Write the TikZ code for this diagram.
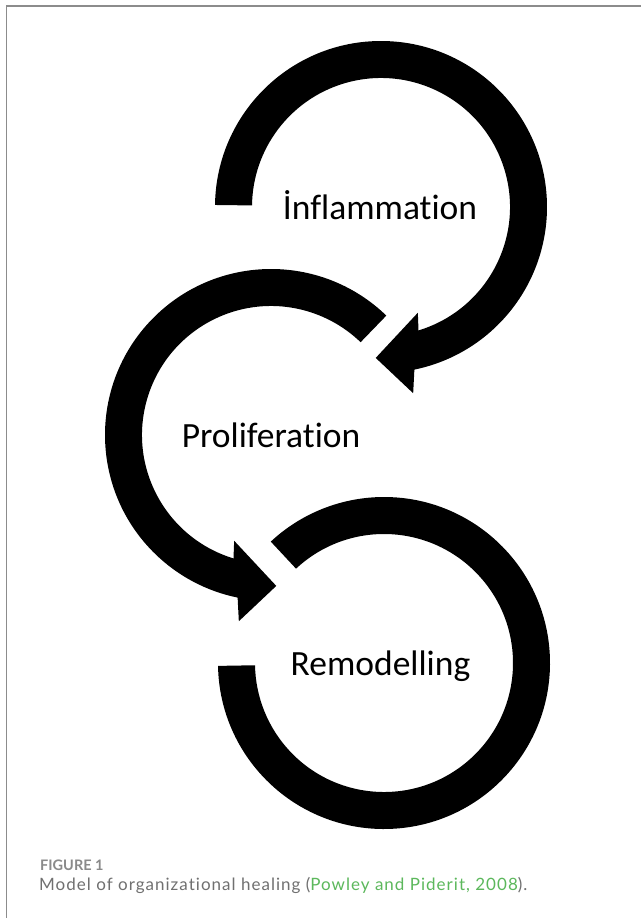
\documentclass[tikz,border=0pt]{standalone}
\usepackage{fontspec}
\usetikzlibrary{calc}
\setmainfont{Carlito}[Ligatures=NoCommon]
\newfontfamily\capfont{Lato}[Ligatures=NoCommon]
\newfontfamily\capwide{Lato}[Ligatures=NoCommon,LetterSpace=6]
\definecolor{framegray}{HTML}{8C8C8C}
\definecolor{capgray}{HTML}{707070}
\definecolor{figgray}{HTML}{8A8A8A}
\definecolor{capgreen}{HTML}{5CB85C}
\begin{document}
\begin{tikzpicture}[x=1pt,y=1pt,
  ring/.style={fill=black,draw=none},
  stage/.style={font=\fontsize{35.5}{40}\selectfont,anchor=base,inner sep=0pt},
  captext/.style={anchor=base west,inner sep=0pt,text=capgray,font=\capwide\fontsize{17}{20}\selectfont}]
\useasboundingbox (0,0) rectangle (641,-918);
\fill[white] (0,0) rectangle (641,-918);
% frame
\draw[framegray,line width=1.5pt] (6.5,-918) -- (6.5,-6) -- (641,-6);
% centres
\coordinate (C1) at (381,-207);
\coordinate (C2) at (271,-435);
\coordinate (C3) at (384,-663);
% arc 1 (Inflammation)
\fill[ring] ($(C1)+(179.3:166)$) arc[start angle=179.3,end angle=-78.4,radius=166]
  -- ($(C1)+(-80.2:189)$) -- ($(C1)+(-92:151)$) -- ($(C1)+(-70.8:112)$)
  -- ($(C1)+(-73.1:129)$) arc[start angle=-73.1,end angle=179.3,radius=129] -- cycle;
% arc 2 (Proliferation)
\fill[ring] ($(C2)+(46:166)$) arc[start angle=46,end angle=258.4,radius=166]
  -- ($(C2)+(260.2:189)$) -- ($(C2)+(272:151)$) -- ($(C2)+(250.8:112)$)
  -- ($(C2)+(253.1:129)$) arc[start angle=253.1,end angle=46,radius=129] -- cycle;
% arc 3 (Remodelling)
\fill[ring] ($(C3)+(181:166)$) arc[start angle=181,end angle=493,radius=166]
  -- ($(C3)+(133:129)$) arc[start angle=493,end angle=181,radius=129] -- cycle;
% labels
\node[stage] (infl) at (380,-219) {İnflammation};
\node[stage] (prol) at (271,-447) {Proliferation};
\node[stage] (remo) at (380.5,-675) {Remodelling};
% caption
\node[anchor=base west,inner sep=0pt,text=figgray,font=\capfont\bfseries\fontsize{14.5}{17}\selectfont] (fig) at (40,-870) {FIGURE 1};
\node[captext] (cap) at (39,-890) {Model of organizational healing (\textcolor{capgreen}{Powley and Piderit, 2008}).};
\end{tikzpicture}
\end{document}
